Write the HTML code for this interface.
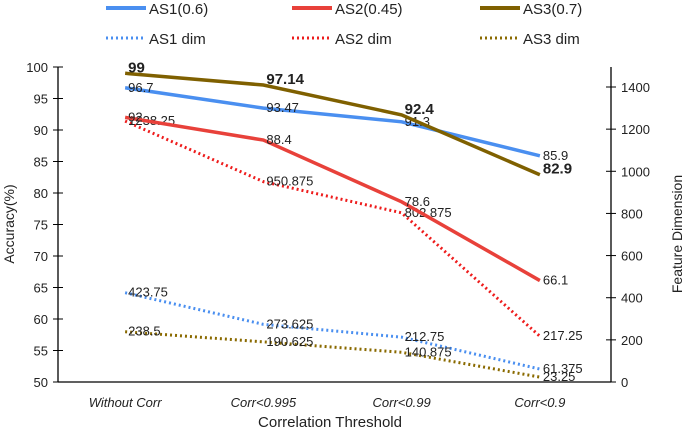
<!DOCTYPE html>
<html><head><meta charset="utf-8"><style>
body{margin:0;background:#fff}
svg text{font-family:"Liberation Sans",sans-serif;fill:#222}
</style></head><body>
<svg id="chart" width="685" height="431" xmlns="http://www.w3.org/2000/svg"></svg>
<script>
const categories=["Without Corr","Corr<0.995","Corr<0.99","Corr<0.9"];
const as1=[96.7,93.47,91.3,85.9];
const as2=[92,88.4,78.6,66.1];
const as3=[99,97.14,92.4,82.9];
const as1dim=[423.75,273.625,212.75,61.375];
const as2dim=[1238.25,950.875,802.875,217.25];
const as3dim=[238.5,190.625,140.875,23.25];
const leftTicks=[50,55,60,65,70,75,80,85,90,95,100];
const rightTicks=[0,200,400,600,800,1000,1200,1400];
const labels1=["96.7","93.47","91.3","85.9"];
const labels2=["92","88.4","78.6","66.1"];
const labels3=["99","97.14","92.4","82.9"];
const labels1d=["423.75","273.625","212.75","61.375"];
const labels2d=["1238.25","950.875","802.875","217.25"];
const labels3d=["238.5","190.625","140.875","23.25"];

const svg=document.getElementById('chart');
const NS="http://www.w3.org/2000/svg";
const L=58,R=611,T=67,B=382;
const x=i=>L+(R-L)/categories.length*(i+0.5)-2;
const yL=v=>B-(v-50)/50*(B-T);
const yR=v=>B-v/1400*(B-87);
function mk(tag,attrs,name,txt){const e=document.createElementNS(NS,tag);for(const k in attrs)e.setAttribute(k,attrs[k]);


if(txt!==undefined)e.textContent=txt;svg.appendChild(e);return e;}
mk('line',{x1:L,y1:T,x2:L,y2:B,stroke:'#000','stroke-width':1.3},'left-axis');
mk('line',{x1:R,y1:T,x2:R,y2:B,stroke:'#000','stroke-width':1.3},'right-axis');
mk('line',{x1:L,y1:B,x2:R,y2:B,stroke:'#000','stroke-width':1.3},'x-axis');
leftTicks.forEach(v=>{mk('line',{x1:L-5,x2:L+5,y1:yL(v),y2:yL(v),stroke:'#000'},'left-tick');
mk('text',{x:L-10,y:yL(v)+5,'text-anchor':'end','font-size':13},'left-tick-label',v);});
rightTicks.forEach(v=>{mk('line',{x1:R-5,x2:R+5,y1:yR(v),y2:yR(v),stroke:'#000'},'right-tick');
mk('text',{x:R+10,y:yR(v)+5,'font-size':13},'right-tick-label',v);});
categories.forEach((c,i)=>mk('text',{x:x(i),y:407,'text-anchor':'middle','font-size':13,'font-style':'italic'},'x-tick-label',c));
mk('text',{x:330,y:427,'text-anchor':'middle','font-size':15},'x-axis-title','Correlation Threshold');
mk('text',{x:0,y:0,transform:'translate(14,224) rotate(-90)','text-anchor':'middle','font-size':14},'left-axis-title','Accuracy(%)');
mk('text',{x:0,y:0,transform:'translate(682,234) rotate(-90)','text-anchor':'middle','font-size':14},'right-axis-title','Feature Dimension');
function series(vals,yf,color,dash,name,labs,bold){
 const pts=vals.map((v,i)=>x(i)+','+yf(v)).join(' ');
 const a={points:pts,fill:'none',stroke:color,'stroke-width':3.5};
 if(dash){a['stroke-dasharray']='2 3';a['stroke-width']=3;}
 mk('polyline',a,name+'-line');
 vals.forEach((v,i)=>mk('text',{x:x(i)+3,y:yf(v)+(bold?-1:4),'font-size':bold?15:13,'font-weight':bold?'bold':'normal'},name+'-label',labs[i]));
}
series(as2dim,yR,'#ee1c1c',true,'as2-dim',labels2d);
series(as1dim,yR,'#4a8ff0',true,'as1-dim',labels1d);
series(as3dim,yR,'#8a6a00',true,'as3-dim',labels3d);
series(as1,yL,'#4a8ff0',false,'as1',labels1);
series(as2,yL,'#e8413a',false,'as2',labels2);
series(as3,yL,'#7f6000',false,'as3',labels3,true);
const leg=[["AS1(0.6)",'#4a8ff0',false,106,8],["AS2(0.45)",'#e8413a',false,292,8],["AS3(0.7)",'#7f6000',false,480,8],
["AS1 dim",'#4a8ff0',true,106,38],["AS2 dim",'#ee1c1c',true,292,38],["AS3 dim",'#8a6a00',true,480,38]];
leg.forEach(l=>{const a={x1:l[3],x2:l[3]+40,y1:l[4],y2:l[4],stroke:l[1],'stroke-width':l[2]?3:4};
if(l[2])a['stroke-dasharray']='2 3';
mk('line',a,'legend-swatch');
mk('text',{x:l[3]+43,y:l[4]+6,'font-size':15},'legend-entry',l[0]);});
</script>
</body></html>
